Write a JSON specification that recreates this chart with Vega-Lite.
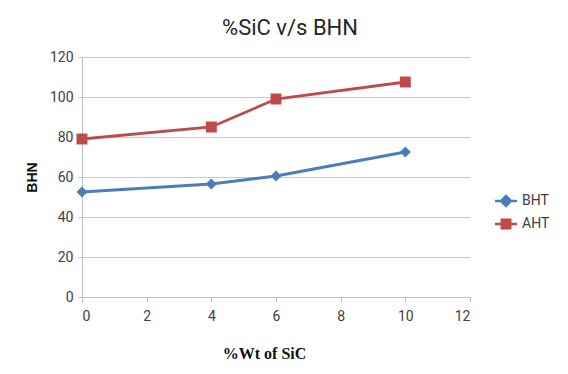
{
  "$schema": "https://vega.github.io/schema/vega-lite/v6.json",
  "width": 388,
  "height": 240,
  "autosize": {"type": "none"},
  "padding": {"left": 82, "top": 57, "right": 98, "bottom": 77},
  "background": "white",
  "title": {
    "text": "%SiC v/s BHN",
    "font": "Roboto",
    "fontSize": 22,
    "fontWeight": "normal",
    "color": "#262626",
    "anchor": "middle",
    "offset": 10,
    "dx": 14
  },
  "data": {
    "values": [
      {"wt": 0, "bhn": 52.5, "series": "BHT"},
      {"wt": 4, "bhn": 56.5, "series": "BHT"},
      {"wt": 6, "bhn": 60.5, "series": "BHT"},
      {"wt": 10, "bhn": 72.5, "series": "BHT"},
      {"wt": 0, "bhn": 79, "series": "AHT"},
      {"wt": 4, "bhn": 85, "series": "AHT"},
      {"wt": 6, "bhn": 99, "series": "AHT"},
      {"wt": 10, "bhn": 107.5, "series": "AHT"}
    ]
  },
  "encoding": {
    "x": {
      "field": "wt",
      "type": "quantitative",
      "scale": {"domain": [0, 12], "nice": false},
      "axis": {
        "title": "%Wt of SiC",
        "titleFont": "Liberation Serif",
        "titleFontSize": 16,
        "titleFontWeight": "bold",
        "titleColor": "#111111",
        "titlePadding": 22,
        "titleX": 182,
        "values": [0, 2, 4, 6, 8, 10, 12],
        "grid": false,
        "domainColor": "#bfbfbf",
        "tickColor": "#bfbfbf",
        "tickSize": 5,
        "labelFont": "Roboto",
        "labelFontSize": 14,
        "labelColor": "#404040",
        "labelPadding": 7
      }
    },
    "y": {
      "field": "bhn",
      "type": "quantitative",
      "scale": {"domain": [0, 120], "nice": false},
      "axis": {
        "title": "BHN",
        "titleFont": "Liberation Sans",
        "titleFontSize": 14,
        "titleFontWeight": "bold",
        "titleColor": "#111111",
        "titlePadding": 10,
        "values": [0, 20, 40, 60, 80, 100, 120],
        "grid": true,
        "gridColor": "#c8c8c8",
        "gridWidth": 1.2,
        "domainColor": "#bfbfbf",
        "tickColor": "#bfbfbf",
        "tickSize": 4,
        "labelFont": "Roboto",
        "labelFontSize": 14,
        "labelColor": "#404040",
        "labelPadding": 5
      }
    },
    "color": {
      "field": "series",
      "type": "nominal",
      "scale": {"domain": ["BHT", "AHT"], "range": ["#4A7EBB", "#BE4B48"]},
      "legend": {
        "title": null,
        "orient": "none",
        "legendX": 412,
        "legendY": 132,
        "labelFont": "Roboto",
        "labelFontSize": 14,
        "labelColor": "#404040",
        "symbolSize": 441,
        "symbolStrokeWidth": 2.5,
        "labelOffset": 4,
        "rowPadding": 0,
        "encode": {
          "symbols": {
            "update": {
              "shape": {"signal": "datum.value == 'BHT' ? 'M-1.05,0H1.05M0,-0.48L0.48,0L0,0.48L-0.48,0Z' : 'M-1.05,0H1.05M-0.4,-0.4H0.4V0.4H-0.4Z'"},
              "fill": {"signal": "datum.value == 'BHT' ? '#4A7EBB' : '#BE4B48'"},
              "stroke": {"signal": "datum.value == 'BHT' ? '#4A7EBB' : '#BE4B48'"},
              "fillOpacity": {"value": 1},
              "strokeWidth": {"value": 2.5}
            }
          }
        }
      }
    }
  },
  "layer": [
    {
      "mark": {"type": "line", "strokeWidth": 2.8},
      "encoding": {"detail": {"field": "series"}}
    },
    {
      "mark": {"type": "point", "filled": true, "opacity": 1},
      "encoding": {
        "shape": {
          "condition": {"test": "datum.series == 'BHT'", "value": "diamond"},
          "value": "square"
        },
        "size": {"value": 120}
      }
    }
  ],
  "config": {"view": {"stroke": null}}
}
